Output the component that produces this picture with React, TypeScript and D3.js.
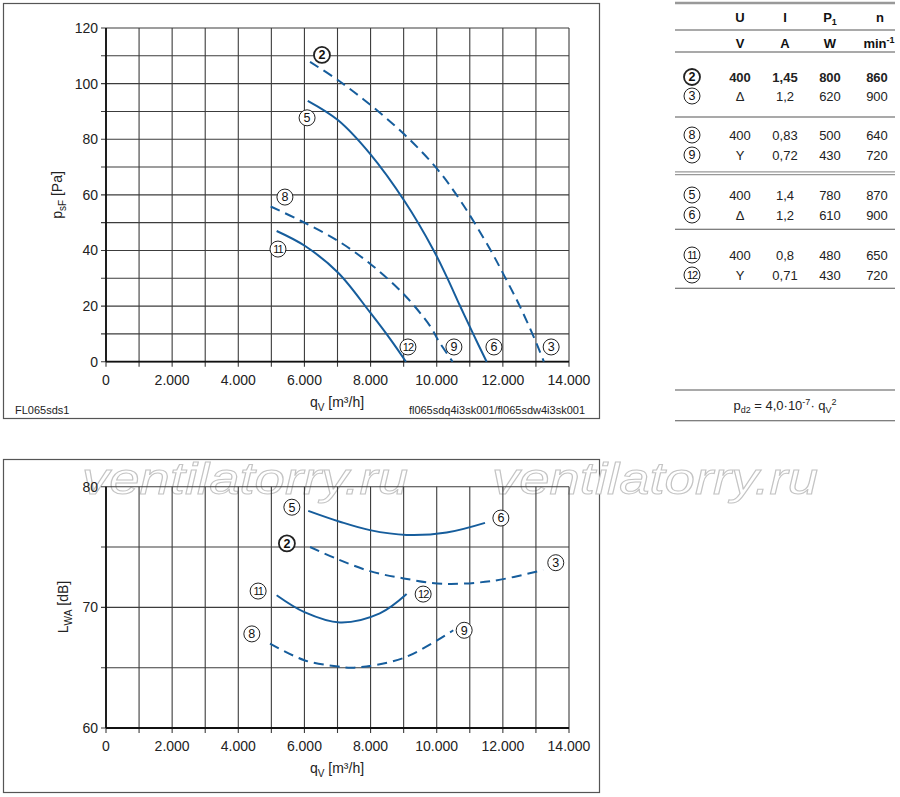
import React from 'react';
import * as d3 from 'd3';

type Pt = [number, number];

// axis ticks
const qTicks = d3.range(0, 14001, 1000);
const qLabels = d3.range(0, 14001, 2000);
const pTicks = d3.range(0, 121, 10);
const pLabels = d3.range(0, 121, 20);
const lTicks = [60, 65, 70, 75, 80];
const lLabels = [60, 70, 80];

// pressure curves, qV [m3/h] vs psF [Pa]
const pCurve2_3: Pt[] = [[6170, 107.8], [7020, 101.2], [8030, 92], [9040, 81.5], [10000, 69.5], [10740, 57.5], [11610, 40.5], [12060, 30.5], [12520, 19.8], [13020, 6.5], [13240, 0]];
const pCurve5_6: Pt[] = [[6100, 93.8], [7020, 86.8], [7980, 74.8], [9040, 57.5], [9900, 40.2], [10300, 30.6], [10700, 20.2], [11110, 9.8], [11510, 0]];
const pCurve8_9: Pt[] = [[4980, 55.8], [5900, 50.6], [7020, 43.4], [8030, 34.8], [9040, 23.8], [9800, 12.8], [10050, 7.6], [10480, 0]];
const pCurve11_12: Pt[] = [[5160, 47], [6020, 41.6], [7020, 32], [7980, 17.8], [8590, 8.2], [9070, 0]];

// sound power curves, qV vs LWA [dB]
const lCurve5_6: Pt[] = [[6115, 78.0], [7070, 77.1], [7980, 76.4], [9090, 76.0], [10300, 76.2], [11460, 77.0]];
const lCurve2_3: Pt[] = [[6170, 75.0], [7000, 74.0], [7980, 73.0], [9000, 72.4], [10200, 71.95], [11710, 72.2], [13220, 73.1]];
const lCurve11_12: Pt[] = [[5160, 71.0], [6000, 69.6], [7070, 68.75], [8280, 69.5], [9090, 71.1]];
const lCurve8_9: Pt[] = [[4960, 67.0], [6015, 65.6], [7020, 65.1], [7500, 65.0], [8990, 65.8], [10500, 68.1]];

// curve number markers
const pMarkers: { id: string; q: number; v: number; bold?: boolean }[] = [
  { id: '2', q: 6530, v: 110.3, bold: true },
  { id: '5', q: 6080, v: 87.7 },
  { id: '8', q: 5410, v: 59.2 },
  { id: '11', q: 5200, v: 40.5 },
  { id: '12', q: 9130, v: 5.3 },
  { id: '9', q: 10520, v: 5.3 },
  { id: '6', q: 11730, v: 5.3 },
  { id: '3', q: 13460, v: 5.3 },
];
const lMarkers: { id: string; q: number; v: number; bold?: boolean }[] = [
  { id: '5', q: 5620, v: 78.3 },
  { id: '2', q: 5470, v: 75.3, bold: true },
  { id: '11', q: 4600, v: 71.35 },
  { id: '8', q: 4410, v: 67.8 },
  { id: '6', q: 11940, v: 77.4 },
  { id: '3', q: 13600, v: 73.7 },
  { id: '12', q: 9590, v: 71.1 },
  { id: '9', q: 10830, v: 68.1 },
];

// table
const tableRows = [
  { id: '2', u: '400', i: '1,45', p: '800', n: '860', bold: true },
  { id: '3', u: 'Δ', i: '1,2', p: '620', n: '900' },
  { id: '8', u: '400', i: '0,83', p: '500', n: '640' },
  { id: '9', u: 'Y', i: '0,72', p: '430', n: '720' },
  { id: '5', u: '400', i: '1,4', p: '780', n: '870' },
  { id: '6', u: 'Δ', i: '1,2', p: '610', n: '900' },
  { id: '11', u: '400', i: '0,8', p: '480', n: '650' },
  { id: '12', u: 'Y', i: '0,71', p: '430', n: '720' },
];
const rowY = [81.5, 100.5, 139.5, 159.5, 199.5, 219.5, 259.5, 279.5];

const FONT = '"Liberation Sans", Arial, Helvetica, sans-serif';
const BLUE = '#165d9c';
const GRID = '#3c3c3c';

const fmtQ = (d: number) => (d === 0 ? '0' : d3.format(',')(d).replace(/,/g, '.'));

const xTop = d3.scaleLinear().domain([0, 14000]).range([106, 569]);
const yTop = d3.scaleLinear().domain([0, 120]).range([361.7, 28]);
const xBot = d3.scaleLinear().domain([0, 14000]).range([106, 569]);
const yBot = d3.scaleLinear().domain([60, 80]).range([728, 486.7]);

const Marker = ({ x, y, id, bold }: { x: number; y: number; id: string; bold?: boolean }) => (
  <g>
    <circle cx={x} cy={y} r={8} fill="white" stroke="#222" strokeWidth={bold ? 1.8 : 1} />
    <text x={x} y={y + 4.3} textAnchor="middle" fontSize={id.length > 1 ? 11 : 12.5}
      fontWeight={bold ? 'bold' : 'normal'} letterSpacing={id.length > 1 ? -1 : 0} fill="#111">{id}</text>
  </g>
);

const Grid = ({ x, y, xs, ys, yLabels, xLabels }: any) => {
  const [x0, x1] = x.range();
  const [y0, y1] = y.range();
  return (
    <g>
      {xs.map((q: number) => (
        <line key={'v' + q} x1={x(q)} x2={x(q)} y1={y1} y2={y0 + 5} stroke={GRID} strokeWidth={1.1} />
      ))}
      {ys.map((v: number) => (
        <line key={'h' + v} x1={x0 - 5} x2={x1} y1={y(v)} y2={y(v)} stroke={GRID} strokeWidth={1.1} />
      ))}
      <line x1={x0} x2={x1} y1={y0} y2={y0} stroke="#111" strokeWidth={1.8} />
      <line x1={x0} x2={x0} y1={y1} y2={y0} stroke="#111" strokeWidth={1.8} />
      {yLabels.map((v: number) => (
        <text key={'yl' + v} x={x0 - 8} y={y(v) + 5} textAnchor="end" fontSize={14} fill="#222">{v}</text>
      ))}
      {xLabels.map((q: number) => (
        <text key={'xl' + q} x={x(q)} y={y0 + 23} textAnchor="middle" fontSize={14} fill="#222">{fmtQ(q)}</text>
      ))}
    </g>
  );
};

const Curves = ({ x, y, curves }: { x: any; y: any; curves: { data: Pt[]; dashed: boolean }[] }) => {
  const line = d3.line<Pt>().x(d => x(d[0])).y(d => y(d[1])).curve(d3.curveCatmullRom.alpha(0.5));
  return (
    <g>
      {curves.map((c, i) => (
        <path key={i} d={line(c.data) || ''} fill="none" stroke={BLUE} strokeWidth={2}
          strokeDasharray={c.dashed ? '10,6' : undefined} />
      ))}
    </g>
  );
};

export default function App() {
  const cols = [740, 785, 830, 877];
  return (
    <div style={{ position: 'absolute', left: 0, top: 0 }}>
      <svg width={900} height={797} style={{ display: 'block', background: 'white' }} fontFamily={FONT}>
        {/* top chart */}
        <rect x={3.5} y={3.5} width={596} height={415} fill="white" stroke="#555" strokeWidth={1.2} />
        <Grid x={xTop} y={yTop} xs={qTicks} ys={pTicks} yLabels={pLabels} xLabels={qLabels} />
        <Curves x={xTop} y={yTop} curves={[
          { data: pCurve2_3, dashed: true },
          { data: pCurve5_6, dashed: false },
          { data: pCurve8_9, dashed: true },
          { data: pCurve11_12, dashed: false },
        ]} />
        {pMarkers.map(m => <Marker key={'pm' + m.id} x={xTop(m.q)} y={yTop(m.v)} id={m.id} bold={m.bold} />)}
        <text transform="translate(62,195) rotate(-90)" textAnchor="middle" fontSize={14} fill="#222">
          p<tspan fontSize={10} dy={4}>sF</tspan><tspan dy={-4}> [Pa]</tspan>
        </text>
        <text x={337} y={407} textAnchor="middle" fontSize={14} fill="#222">
          q<tspan fontSize={10} dy={4}>V</tspan><tspan dy={-4}> [m³/h]</tspan>
        </text>
        <text x={15} y={414} fontSize={11} fill="#222">FL065sds1</text>
        <text x={585} y={414} textAnchor="end" fontSize={11} fill="#222">fl065sdq4i3sk001/fl065sdw4i3sk001</text>

        {/* table */}
        <line x1={675} x2={895} y1={3} y2={3} stroke="#999" strokeWidth={2.5} />
        <g fontWeight="bold" fontSize={13} fill="#111" textAnchor="middle">
          <text x={740} y={22}>U</text>
          <text x={785} y={22}>I</text>
          <text x={830} y={22}>P<tspan fontSize={9} dy={3}>1</tspan></text>
          <text x={880} y={22}>n</text>
          <text x={740} y={48}>V</text>
          <text x={785} y={48}>A</text>
          <text x={830} y={48}>W</text>
          <text x={879} y={48}>min<tspan fontSize={9} dy={-5}>-1</tspan></text>
        </g>
        {[30, 52, 117, 229.3, 288.3, 390, 420.7].map(v => (
          <line key={'tl' + v} x1={675} x2={895} y1={v} y2={v} stroke="#555" strokeWidth={1.1} />
        ))}
        <line x1={675} x2={895} y1={171.8} y2={171.8} stroke="#999" strokeWidth={1.2} />
        <line x1={675} x2={895} y1={174.6} y2={174.6} stroke="#999" strokeWidth={1.2} />
        {tableRows.map((r, k) => (
          <g key={'row' + r.id} fontSize={13} fill="#222" textAnchor="middle" fontWeight={r.bold ? 'bold' : 'normal'}>
            <Marker x={692} y={rowY[k] - 4.5} id={r.id} bold={r.bold} />
            <text x={cols[0]} y={rowY[k]}>{r.u}</text>
            <text x={cols[1]} y={rowY[k]}>{r.i}</text>
            <text x={cols[2]} y={rowY[k]}>{r.p}</text>
            <text x={cols[3]} y={rowY[k]}>{r.n}</text>
          </g>
        ))}
        <text x={785} y={410} textAnchor="middle" fontSize={13} fill="#222">
          p<tspan fontSize={9} dy={3}>d2</tspan><tspan dy={-3}> = 4,0·10</tspan><tspan fontSize={9} dy={-5}>-7</tspan>
          <tspan dy={5}>· q</tspan><tspan fontSize={9} dy={3}>V</tspan><tspan fontSize={9} dy={-8}>2</tspan>
        </text>

        {/* bottom chart */}
        <rect x={3.5} y={459.5} width={596} height={333} fill="white" stroke="#555" strokeWidth={1.2} />
        <g fontSize={44} fontStyle="italic" fill="white" stroke="#c4c4c4" strokeWidth={1}>
          <text x={82} y={494} textLength={326} lengthAdjust="spacingAndGlyphs">ventilatorry.ru</text>
          <text x={492} y={494} textLength={326} lengthAdjust="spacingAndGlyphs">ventilatorry.ru</text>
        </g>
        <Grid x={xBot} y={yBot} xs={qTicks} ys={lTicks} yLabels={lLabels} xLabels={qLabels} />
        <Curves x={xBot} y={yBot} curves={[
          { data: lCurve5_6, dashed: false },
          { data: lCurve2_3, dashed: true },
          { data: lCurve11_12, dashed: false },
          { data: lCurve8_9, dashed: true },
        ]} />
        {lMarkers.map(m => <Marker key={'lm' + m.id} x={xBot(m.q)} y={yBot(m.v)} id={m.id} bold={m.bold} />)}
        <text transform="translate(68,607) rotate(-90)" textAnchor="middle" fontSize={14} fill="#222">
          L<tspan fontSize={10} dy={4}>WA</tspan><tspan dy={-4}> [dB]</tspan>
        </text>
        <text x={337} y={773} textAnchor="middle" fontSize={14} fill="#222">
          q<tspan fontSize={10} dy={4}>V</tspan><tspan dy={-4}> [m³/h]</tspan>
        </text>
      </svg>
    </div>
  );
}
